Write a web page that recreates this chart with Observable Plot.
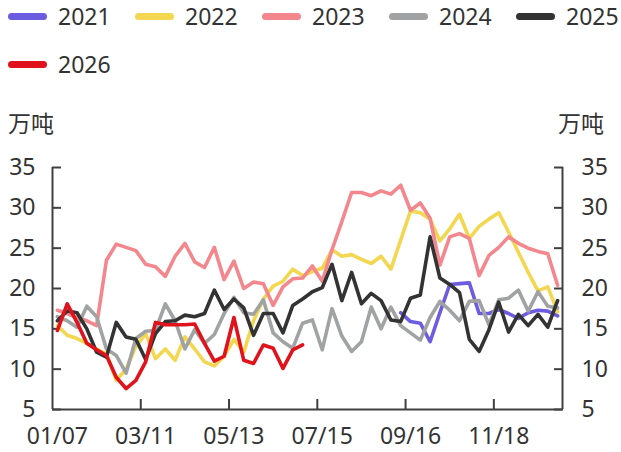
<!DOCTYPE html>
<html>
<head>
<meta charset="utf-8">
<script src="https://cdn.jsdelivr.net/npm/d3@7"></script>
<script src="https://cdn.jsdelivr.net/npm/@observablehq/plot@0.6"></script>
<style>
  body { margin: 0; background: #fff; color: #333; font-family: "Noto Sans", "Noto Sans CJK SC", sans-serif; }
  #wrap { position: relative; width: 621px; height: 452px; overflow: hidden; }
  #head { position: relative; width: 621px; height: 145px; }
  .item { position: absolute; height: 32px; display: flex; align-items: center; font-size: 23px; white-space: nowrap; }
  .sw { width: 39px; height: 7px; border-radius: 3.5px; margin-right: 11px; }
  .unit { position: absolute; top: 111px; font-size: 23px; line-height: 23px; font-family: "Noto Sans CJK SC", sans-serif; }
  svg { display: block; }
</style>
</head>
<body>
<div id="wrap">
  <div id="head"></div>
  <div id="chart"></div>
</div>
<script>
// ---- data ----
const years = ["2021", "2022", "2023", "2024", "2025", "2026"];
const colors = ["#6c5ce0", "#f3d751", "#f4878e", "#a0a2a4", "#333333", "#e0121c"];
const unitLabel = "万吨";
const xTickLabels = ["01/07", "03/11", "05/13", "07/15", "09/16", "11/18"];
const xLabelStep = 9;            // weeks between labels
const yTicks = [5, 10, 15, 20, 25, 30, 35];
const yDomain = [5, 35];
const weekCount = 52;

const v2021 = [null, null, null, null, null, null, null, null, null, null,
  null, null, null, null, null, null, null, null, null, null,
  null, null, null, null, null, null, null, null, null, null,
  null, null, null, null, null, 17.0, 15.9, 15.7, 13.4, 17.0,
  20.5, 20.6, 20.7, 16.9, 16.9, 17.4, 16.9, 16.3, 17.0, 17.3,
  17.2, 16.6];
const v2022 = [15.4, 14.2, 13.8, 13.2, 12.5, 11.9, 8.6, 10.0, 12.8, 14.4,
  11.3, 12.5, 11.1, 14.0, 12.5, 10.9, 10.4, 11.6, 13.7, 12.1,
  16.0, 18.7, 20.3, 20.9, 22.4, 21.6, 22.1, 22.5, 24.8, 24.0,
  24.2, 23.6, 23.1, 24.0, 22.4, 26.0, 29.6, 29.4, 28.6, 25.9,
  27.4, 29.2, 26.2, 27.7, 28.6, 29.4, 27.0, 24.5, 22.0, 19.7,
  20.2, 17.1];
const v2023 = [17.3, 16.9, 16.4, 16.0, 15.4, 23.5, 25.5, 25.1, 24.7, 23.0,
  22.7, 21.5, 24.0, 25.6, 23.3, 22.6, 25.1, 21.1, 23.4, 20.0,
  20.8, 20.6, 17.9, 20.2, 21.2, 21.3, 22.8, 20.9, 24.8, 28.3,
  31.9, 31.9, 31.5, 32.1, 31.7, 32.8, 29.7, 30.6, 28.7, 22.9,
  26.4, 26.8, 26.2, 21.6, 24.1, 25.1, 26.4, 25.6, 25.0, 24.6,
  24.3, 20.4];
const v2024 = [16.5, 16.0, 15.2, 17.8, 16.5, 12.5, 11.7, 9.5, 13.8, 14.7,
  14.8, 18.1, 16.0, 12.5, 14.9, 13.2, 14.3, 16.9, 18.9, 17.0,
  16.8, 18.6, 14.5, 13.4, 12.6, 15.7, 16.1, 12.4, 17.5, 14.1,
  12.2, 13.4, 17.7, 15.0, 17.7, 15.4, 14.5, 13.6, 16.4, 18.4,
  17.3, 16.0, 18.4, 18.5, 15.5, 18.6, 18.8, 19.8, 17.2, 19.6,
  17.8, 17.6];
const v2025 = [16.0, 17.2, 17.0, 15.0, 12.1, 11.5, 15.8, 14.0, 13.7, 11.2,
  14.4, 15.9, 16.0, 16.7, 16.5, 16.9, 19.8, 17.4, 18.7, 17.6,
  14.2, 16.9, 16.9, 14.5, 17.9, 18.7, 19.6, 20.1, 23.0, 18.5,
  22.0, 18.1, 19.4, 18.5, 16.1, 15.9, 18.8, 19.2, 26.4, 21.3,
  20.5, 19.5, 13.7, 12.2, 14.9, 18.3, 14.6, 16.8, 15.4, 16.8,
  15.2, 18.5];
const v2026 = [14.8, 18.1, 15.8, 13.2, 12.4, 11.7, 9.0, 7.6, 8.6, 10.9,
  15.8, 15.5, 15.5, 15.5, 15.6, 13.2, 11.0, 11.6, 16.4, 11.1,
  10.7, 13.0, 12.6, 10.1, 12.4, 13.0];

const seriesValues = [v2021, v2022, v2023, v2024, v2025, v2026];

// ---- tidy rows ----
const rows = [];
years.forEach((yr, k) => {
  seriesValues[k].forEach((v, i) => {
    if (v != null) rows.push({year: yr, week: i, value: v});
  });
});

// ---- legend + units (HTML, above the SVG) ----
const head = document.getElementById("head");
years.forEach((yr, k) => {
  const it = document.createElement("div");
  it.className = "item";
  it.style.left = (8 + 127 * (k % 5)) + "px";
  it.style.top = (Math.floor(k / 5) * 48) + "px";
  const sw = document.createElement("div");
  sw.className = "sw";
  sw.style.background = colors[k];
  const tx = document.createElement("span");
  tx.textContent = yr;
  it.appendChild(sw); it.appendChild(tx);
  head.appendChild(it);
});
const uL = document.createElement("div");
uL.className = "unit"; uL.style.left = "8px"; uL.textContent = unitLabel;
const uR = document.createElement("div");
uR.className = "unit"; uR.style.left = "558px"; uR.textContent = unitLabel;
head.appendChild(uL); head.appendChild(uR);

// ---- chart ----
const xDomain = [-0.5, weekCount - 0.5];
const labelWeeks = xTickLabels.map((_, i) => i * xLabelStep);
const boundaryTicks = xTickLabels.slice(1).map((_, i) => (i + 1) * xLabelStep - 0.5);
const axisColor = "#404040";

const chart = Plot.plot({
  width: 621,
  height: 307,
  marginLeft: 52,
  marginRight: 59,
  marginTop: 22,
  marginBottom: 43,
  style: {fontSize: "23px", fontFamily: "'Noto Sans', 'Noto Sans CJK SC', sans-serif", color: "#333", background: "#fff", overflow: "visible"},
  x: {type: "linear", domain: xDomain, axis: null},
  y: {domain: yDomain, axis: null},
  color: {domain: years, range: colors},
  marks: [
    Plot.ruleY([yDomain[0]], {stroke: axisColor, strokeWidth: 2}),
    Plot.ruleX(xDomain, {stroke: axisColor, strokeWidth: 2}),
    Plot.axisY({anchor: "left", ticks: yTicks, tickSize: -9, tickPadding: 26, stroke: axisColor, strokeWidth: 2, fill: "#333", label: null}),
    Plot.axisY({anchor: "right", ticks: yTicks, tickSize: -9, tickPadding: 28, stroke: axisColor, strokeWidth: 2, fill: "#333", label: null}),
    Plot.axisX({anchor: "bottom", ticks: boundaryTicks, tickSize: -10, tickFormat: () => "", stroke: axisColor, strokeWidth: 2, label: null}),
    Plot.axisX({anchor: "bottom", ticks: labelWeeks, tickSize: 0, tickPadding: 18, tickFormat: (d) => xTickLabels[Math.round(d / xLabelStep)], fill: "#333", label: null}),
    Plot.line(rows, {x: "week", y: "value", z: "year", stroke: "year", strokeWidth: 3.6, strokeLinejoin: "round", strokeLinecap: "round"})
  ]
});
document.getElementById("chart").appendChild(chart);
</script>
</body>
</html>
